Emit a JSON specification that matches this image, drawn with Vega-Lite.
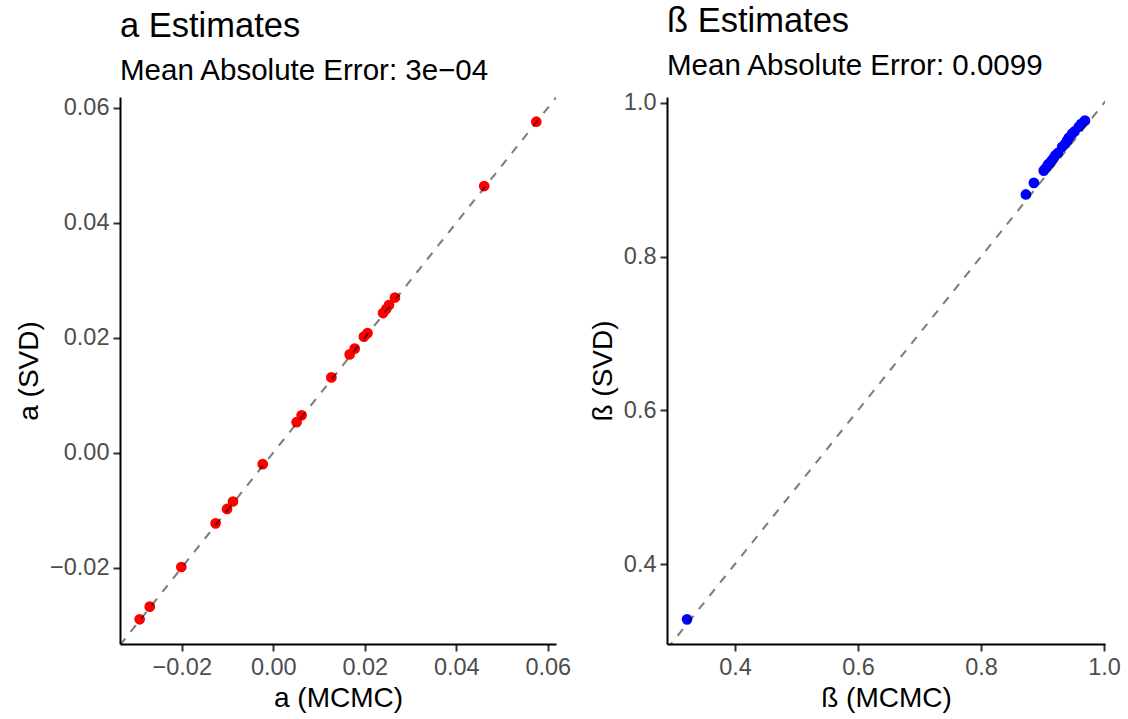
{
  "$schema": "https://vega.github.io/schema/vega-lite/v6.json",
  "background": "white",
  "padding": {"left": 15, "top": 3, "right": 20, "bottom": 5},
  "spacing": 18,
  "config": {
    "view": {"stroke": null},
    "font": "Liberation Sans",
    "axis": {
      "grid": false,
      "domainColor": "black",
      "domainWidth": 2,
      "tickColor": "#333333",
      "tickWidth": 2,
      "tickSize": 7,
      "labelColor": "#4D4D4D",
      "labelFontSize": 23.5,
      "labelFont": "Liberation Sans",
      "labelPadding": 4,
      "labelFlush": false,
      "labelOverlap": false,
      "labelBound": false,
      "titleFont": "Liberation Sans",
      "titleFontSize": 28,
      "titleFontWeight": "normal",
      "titleColor": "black",
      "titlePadding": 6
    },
    "title": {
      "anchor": "start",
      "frame": "group",
      "font": "Liberation Sans",
      "fontSize": 34.5,
      "fontWeight": "normal",
      "color": "black",
      "subtitleFont": "Liberation Sans",
      "subtitleFontSize": 29.5,
      "subtitleColor": "black",
      "subtitlePadding": 13,
      "offset": 9
    }
  },
  "datasets": {
    "alpha": [
      {"mcmc": 0.0575, "svd": 0.0576},
      {"mcmc": 0.0461, "svd": 0.0464},
      {"mcmc": 0.0266, "svd": 0.0270},
      {"mcmc": 0.0253, "svd": 0.0257},
      {"mcmc": 0.0247, "svd": 0.0250},
      {"mcmc": 0.0240, "svd": 0.0243},
      {"mcmc": 0.0206, "svd": 0.0208},
      {"mcmc": 0.0198, "svd": 0.0202},
      {"mcmc": 0.0178, "svd": 0.0181},
      {"mcmc": 0.0167, "svd": 0.0171},
      {"mcmc": 0.0127, "svd": 0.0131},
      {"mcmc": 0.0062, "svd": 0.0065},
      {"mcmc": 0.0051, "svd": 0.0053},
      {"mcmc": -0.0023, "svd": -0.0020},
      {"mcmc": -0.0088, "svd": -0.0085},
      {"mcmc": -0.0101, "svd": -0.0098},
      {"mcmc": -0.0126, "svd": -0.0123},
      {"mcmc": -0.0201, "svd": -0.0199},
      {"mcmc": -0.0270, "svd": -0.0268},
      {"mcmc": -0.0292, "svd": -0.0290}
    ],
    "beta": [
      {"mcmc": 0.969, "svd": 0.977},
      {"mcmc": 0.963, "svd": 0.973},
      {"mcmc": 0.959, "svd": 0.969},
      {"mcmc": 0.952, "svd": 0.963},
      {"mcmc": 0.948, "svd": 0.960},
      {"mcmc": 0.943, "svd": 0.955},
      {"mcmc": 0.940, "svd": 0.951},
      {"mcmc": 0.937, "svd": 0.947},
      {"mcmc": 0.932, "svd": 0.943},
      {"mcmc": 0.925, "svd": 0.935},
      {"mcmc": 0.921, "svd": 0.932},
      {"mcmc": 0.918, "svd": 0.928},
      {"mcmc": 0.915, "svd": 0.925},
      {"mcmc": 0.912, "svd": 0.922},
      {"mcmc": 0.909, "svd": 0.920},
      {"mcmc": 0.905, "svd": 0.915},
      {"mcmc": 0.902, "svd": 0.912},
      {"mcmc": 0.886, "svd": 0.896},
      {"mcmc": 0.873, "svd": 0.881},
      {"mcmc": 0.322, "svd": 0.328}
    ],
    "alphaLine": [{"x": -0.0335, "y": -0.0335, "x2": 0.0619, "y2": 0.0619}],
    "betaLine": [{"x": 0.2894, "y": 0.2894, "x2": 1.0078, "y2": 1.0078}]
  },
  "hconcat": [
    {
      "width": 436,
      "height": 547,
      "title": {"text": "a Estimates", "subtitle": "Mean Absolute Error: 3e\u221204"},
      "layer": [
        {
          "data": {"name": "alpha"},
          "mark": {"type": "circle", "size": 115, "opacity": 1, "color": "#FF0000"},
          "encoding": {
            "x": {"field": "mcmc", "type": "quantitative", "title": "a (MCMC)",
                  "scale": {"domain": [-0.0335, 0.0618], "nice": false, "zero": false},
                  "axis": {"values": [-0.02, 0, 0.02, 0.04, 0.06], "format": ".2f"}},
            "y": {"field": "svd", "type": "quantitative", "title": "a (SVD)",
                  "scale": {"domain": [-0.0333, 0.0619], "nice": false, "zero": false},
                  "axis": {"values": [-0.02, 0, 0.02, 0.04, 0.06], "format": ".2f"}}
          }
        },
        {
          "data": {"name": "alphaLine"},
          "mark": {"type": "rule", "color": "black", "opacity": 0.5, "strokeWidth": 2.1, "strokeDash": [8.5, 8.5], "clip": true},
          "encoding": {
            "x": {"field": "x", "type": "quantitative"},
            "y": {"field": "y", "type": "quantitative"},
            "x2": {"field": "x2"},
            "y2": {"field": "y2"}
          }
        }
      ]
    },
    {
      "width": 438,
      "height": 547,
      "title": {"text": "ß Estimates", "subtitle": "Mean Absolute Error: 0.0099"},
      "layer": [
        {
          "data": {"name": "beta"},
          "mark": {"type": "circle", "size": 115, "opacity": 1, "color": "#0000FF"},
          "encoding": {
            "x": {"field": "mcmc", "type": "quantitative", "title": "ß (MCMC)",
                  "scale": {"domain": [0.2894, 1.0016], "nice": false, "zero": false},
                  "axis": {"values": [0.4, 0.6, 0.8, 1.0], "format": ".1f"}},
            "y": {"field": "svd", "type": "quantitative", "title": "ß (SVD)",
                  "scale": {"domain": [0.2959, 1.0078], "nice": false, "zero": false},
                  "axis": {"values": [0.4, 0.6, 0.8, 1.0], "format": ".1f"}}
          }
        },
        {
          "data": {"name": "betaLine"},
          "mark": {"type": "rule", "color": "black", "opacity": 0.5, "strokeWidth": 2.1, "strokeDash": [8.5, 8.5], "clip": true},
          "encoding": {
            "x": {"field": "x", "type": "quantitative"},
            "y": {"field": "y", "type": "quantitative"},
            "x2": {"field": "x2"},
            "y2": {"field": "y2"}
          }
        }
      ]
    }
  ]
}
